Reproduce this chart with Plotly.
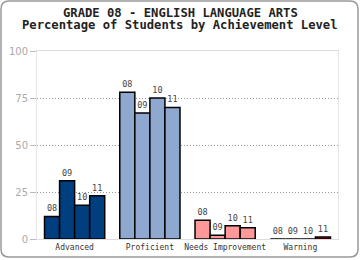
import plotly.graph_objects as go

categories = ["Advanced", "Proficient", "Needs Improvement", "Warning"]
years = ["08", "09", "10", "11"]
values = {
    "08": [12, 78, 10, 0],
    "09": [31, 67, 2, 0],
    "10": [18, 75, 7, 0],
    "11": [23, 70, 6, 1],
}
cat_colors = ["#003F7F", "#8FA8CF", "#FF9999", "#E00000"]
y_ticks = [0, 25, 50, 75, 100]
title_lines = ["GRADE 08 - ENGLISH LANGUAGE ARTS", "Percentage of Students by Achievement Level"]

fig = go.Figure()
for yr in years:
    fig.add_trace(go.Bar(
        x=categories, y=values[yr], name=yr,
        marker=dict(color=cat_colors, line=dict(color="#000000", width=1.5)),
        text=[yr] * len(categories), textposition="outside", cliponaxis=False,
        textfont=dict(family="DejaVu Sans Mono", size=8.5, color="#444444"),
        constraintext="none",
    ))

W, H = 360, 260
L, R, T, B = 37, 22, 51, 21
pw, ph = W - L - R, H - T - B

def px(x):
    return (x - L) / pw

def py(y):
    return (H - B - y) / ph

x0, y0, x1, y1, r = 1, 1, 358, 257, 8
path = (f"M {px(x0+r)},{py(y0)} L {px(x1-r)},{py(y0)} Q {px(x1)},{py(y0)} {px(x1)},{py(y0+r)} "
        f"L {px(x1)},{py(y1-r)} Q {px(x1)},{py(y1)} {px(x1-r)},{py(y1)} "
        f"L {px(x0+r)},{py(y1)} Q {px(x0)},{py(y1)} {px(x0)},{py(y1-r)} "
        f"L {px(x0)},{py(y0+r)} Q {px(x0)},{py(y0)} {px(x0+r)},{py(y0)} Z")

annotations = []
for i, line in enumerate(title_lines):
    annotations.append(dict(
        text=f"<b>{line}</b>", xref="paper", yref="paper",
        x=px(180), y=py(13.5 + 12 * i), xanchor="center", yanchor="middle",
        showarrow=False, font=dict(family="DejaVu Sans Mono", size=12.2, color="#222222"),
    ))

fig.update_layout(
    width=W, height=H,
    margin=dict(l=L, r=R, t=T, b=B, autoexpand=False),
    paper_bgcolor="white", plot_bgcolor="white",
    barmode="group", bargap=0.2, bargroupgap=0,
    showlegend=False,
    annotations=annotations,
    xaxis=dict(
        range=[-0.5, 3.5], showgrid=False, showline=True, linecolor="#dddddd",
        mirror=True, ticks="", tickfont=dict(family="DejaVu Sans Mono", size=8, color="#333333"),
        fixedrange=True, automargin=False,
    ),
    yaxis=dict(
        range=[0, 100], tickvals=y_ticks, showgrid=True, gridcolor="#999999",
        griddash="1px,2px", gridwidth=1, showline=True, linecolor="#e6e6e6", mirror=True,
        ticks="outside", ticklen=6, tickcolor="#bbbbbb",
        tickfont=dict(family="DejaVu Sans", size=10, color="#aaaaaa"),
        zeroline=True, zerolinecolor="#cccccc", zerolinewidth=1,
        fixedrange=True, automargin=False,
    ),
    shapes=[dict(type="path", xref="paper", yref="paper", path=path,
                 line=dict(color="#999999", width=1.5), fillcolor="rgba(0,0,0,0)")],
)

fig.write_html("out.html")
